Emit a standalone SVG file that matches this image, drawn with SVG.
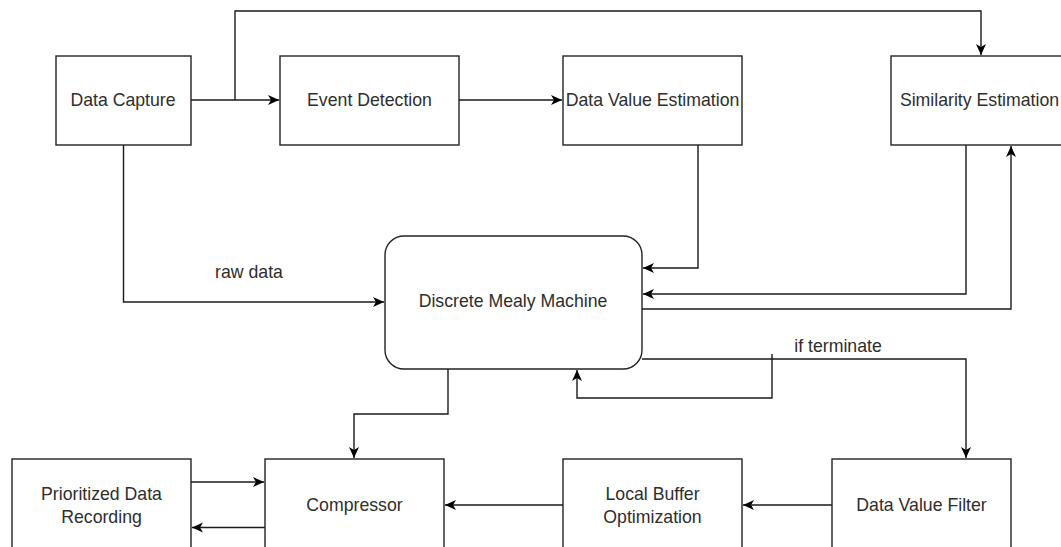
<svg xmlns="http://www.w3.org/2000/svg" width="1061" height="547" viewBox="0 0 1061 547">
<style>
.box{fill:#fff;stroke:#222;stroke-width:1.4}
.lbl{font-family:"Liberation Sans",Arial,sans-serif;font-size:17.7px;fill:#2e2e2e;text-anchor:middle}
.edge{fill:none;stroke:#1a1a1a;stroke-width:1.4}
</style>
<defs>
<marker id="arr" markerUnits="userSpaceOnUse" markerWidth="13" markerHeight="12" refX="11" refY="6" orient="auto">
<path d="M0,1 L11,6 L0,11 L3,6 z" fill="#000"/>
</marker>
</defs>
<rect width="1061" height="547" fill="#fff"/>
<g id="connectors">
<path class="edge" d="M191,100 H279" marker-end="url(#arr)"/>
<path class="edge" d="M235,100 V11 H981 V55" marker-end="url(#arr)"/>
<path class="edge" d="M459,100 H562" marker-end="url(#arr)"/>
<path class="edge" d="M123.5,145 V302 H384" marker-end="url(#arr)"/>
<path class="edge" d="M698,145 V268 H643" marker-end="url(#arr)"/>
<path class="edge" d="M966,145 V294 H643" marker-end="url(#arr)"/>
<path class="edge" d="M642,309 H1011 V146" marker-end="url(#arr)"/>
<path class="edge" d="M642,359 H966 V458" marker-end="url(#arr)"/>
<path class="edge" d="M772,354 V398 H577 V370" marker-end="url(#arr)"/>
<path class="edge" d="M448,369 V414 H354 V458" marker-end="url(#arr)"/>
<path class="edge" d="M191,482 H264" marker-end="url(#arr)"/>
<path class="edge" d="M265,527.5 H192" marker-end="url(#arr)"/>
<path class="edge" d="M832,505 H743" marker-end="url(#arr)"/>
<path class="edge" d="M563,505 H445" marker-end="url(#arr)"/>
<text class="lbl" x="249" y="278">raw data</text>
<text class="lbl" x="838" y="352">if terminate</text>
</g>
<g id="data-capture">
<rect class="box" x="56" y="56" width="135" height="89"/>
<text class="lbl" x="123" y="106">Data Capture</text>
</g>
<g id="event-detection">
<rect class="box" x="280" y="56" width="179" height="89"/>
<text class="lbl" x="369.5" y="106">Event Detection</text>
</g>
<g id="data-value-estimation">
<rect class="box" x="563" y="56" width="179" height="89"/>
<text class="lbl" x="652.5" y="106">Data Value Estimation</text>
</g>
<g id="similarity-estimation">
<rect class="box" x="891" y="56" width="179" height="89"/>
<text class="lbl" x="979.5" y="106">Similarity Estimation</text>
</g>
<g id="discrete-mealy-machine">
<rect class="box" x="385" y="236" width="257" height="133" rx="19" ry="19"/>
<text class="lbl" x="513" y="307">Discrete Mealy Machine</text>
</g>
<g id="prioritized-data-recording">
<rect class="box" x="12" y="459" width="179" height="89"/>
<text class="lbl" x="101.5" y="500">Prioritized Data</text>
<text class="lbl" x="101.5" y="522.5">Recording</text>
</g>
<g id="compressor">
<rect class="box" x="265" y="459" width="179" height="89"/>
<text class="lbl" x="354.5" y="511">Compressor</text>
</g>
<g id="local-buffer-optimization">
<rect class="box" x="563" y="459" width="179" height="89"/>
<text class="lbl" x="652.5" y="500">Local Buffer</text>
<text class="lbl" x="652.5" y="522.5">Optimization</text>
</g>
<g id="data-value-filter">
<rect class="box" x="832" y="459" width="179" height="89"/>
<text class="lbl" x="921.5" y="511">Data Value Filter</text>
</g>
</svg>
